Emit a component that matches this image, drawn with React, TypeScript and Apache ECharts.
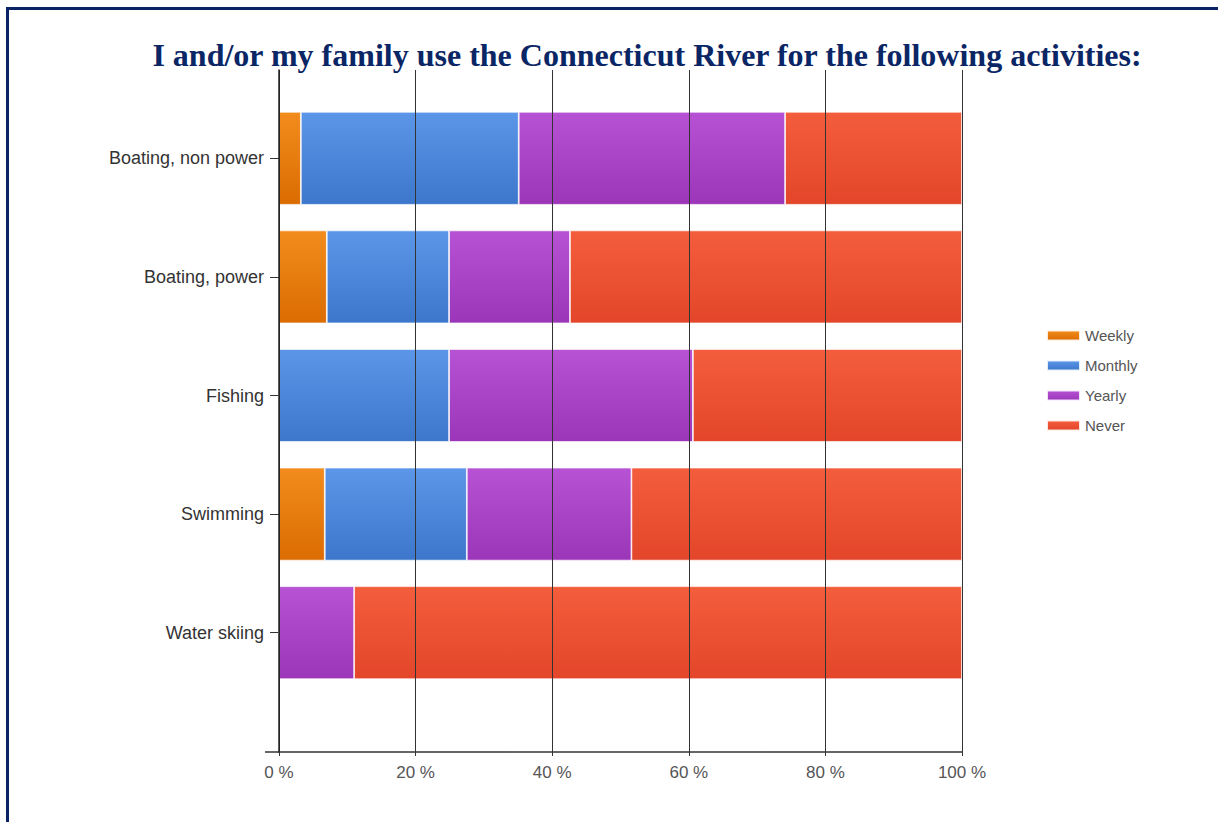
import React, { useEffect, useRef } from "react";
import * as echarts from "echarts";

const TITLE = "I and/or my family use the Connecticut River for the following activities:";
const categories = ["Boating, non power", "Boating, power", "Fishing", "Swimming", "Water skiing"];
const seriesNames = ["Weekly", "Monthly", "Yearly", "Never"];
const weekly = [3.2, 7.0, 0, 6.7, 0];
const monthly = [31.9, 17.9, 24.9, 20.8, 0];
const yearly = [39.0, 17.7, 35.7, 24.1, 11.0];
const never = [25.9, 57.4, 39.4, 48.4, 89.0];
const xTicks = [0, 20, 40, 60, 80, 100];

const grad = (top: string, bottom: string) =>
  new echarts.graphic.LinearGradient(0, 0, 0, 1, [
    { offset: 0, color: top },
    { offset: 1, color: bottom },
  ]);

const SANS = "Arial, 'Liberation Sans', sans-serif";

export default function App() {
  const ref = useRef<HTMLDivElement>(null);
  useEffect(() => {
    if (!ref.current) return;
    const chart = echarts.init(ref.current, undefined, { renderer: "svg" });
    const values = [weekly, monthly, yearly, never];
    const colors = [
      ["#f28c1c", "#db6c02"],
      ["#5c96e8", "#3d77cc"],
      ["#b752d4", "#9b36b9"],
      ["#f35d3c", "#e3462a"],
    ];
    const legendColors = ["#e8780c", "#4a86dc", "#a843c6", "#ec5236"];
    chart.setOption({
      animation: false,
      backgroundColor: "#ffffff",
      title: {
        text: TITLE,
        left: 642,
        top: 34,
        textAlign: "center",
        textStyle: {
          fontFamily: "'Liberation Serif', 'Times New Roman', serif",
          fontWeight: "bold",
          fontSize: 32,
          color: "#0b2665",
        },
      },
      legend: {
        orient: "vertical",
        left: 1046,
        top: 328,
        padding: 0,
        itemWidth: 33,
        itemHeight: 10,
        itemGap: 15,
        icon: "rect",
        data: seriesNames,
        textStyle: { fontFamily: SANS, fontSize: 15, color: "#555" },
      },
      grid: [
        { left: 279, right: 256, top: 99, bottom: 130 },
        { left: 279, right: 256, top: 70, bottom: 70 },
      ],
      xAxis: [
        { type: "value", gridIndex: 0, min: 0, max: 100, show: false },
        {
          type: "value",
          gridIndex: 1,
          min: 0,
          max: 100,
          interval: 20,
          z: 3,
          axisLine: { show: true, lineStyle: { color: "#333", width: 1.5 } },
          axisTick: { show: true, length: 4, lineStyle: { color: "#333" } },
          splitLine: { show: true, lineStyle: { color: "#333", width: 1 } },
          axisLabel: {
            formatter: (v: number) => (xTicks.includes(v) ? `${v} %` : ""),
            fontFamily: SANS,
            fontSize: 17,
            color: "#555",
            margin: 12,
          },
        },
      ],
      yAxis: [
        {
          type: "category",
          gridIndex: 0,
          inverse: true,
          data: categories,
          axisLine: { show: false },
          axisTick: { show: true, alignWithLabel: true, length: 9, lineStyle: { color: "#333" } },
          axisLabel: {
            fontFamily: SANS,
            fontSize: 18,
            color: "#333",
            margin: 15,
          },
        },
        {
          type: "value",
          gridIndex: 1,
          min: 0,
          max: 1,
          z: 3,
          axisLine: { show: true, lineStyle: { color: "#222", width: 1.5 } },
          axisTick: { show: false },
          axisLabel: { show: false },
          splitLine: { show: false },
        },
      ],
      graphic: [
        { type: "line", shape: { x1: 265, y1: 752, x2: 279, y2: 752 }, style: { stroke: "#333", lineWidth: 1.5 } },
        { type: "line", shape: { x1: 6, y1: 8.5, x2: 1218, y2: 8.5 }, style: { stroke: "#0a2463", lineWidth: 3 } },
        { type: "line", shape: { x1: 7.5, y1: 7, x2: 7.5, y2: 822 }, style: { stroke: "#0a2463", lineWidth: 3 } },
      ],
      series: seriesNames.map((name, i) => ({
        name,
        type: "bar",
        stack: "total",
        xAxisIndex: 0,
        yAxisIndex: 0,
        barWidth: 93,
        data: values[i],
        itemStyle: {
          color: grad(colors[i][0], colors[i][1]),
          borderColor: "rgba(255,255,255,0.85)",
          borderWidth: 0.8,
        },
        emphasis: { disabled: true },
      })),
      color: legendColors,
    });
    return () => chart.dispose();
  }, []);
  return (
    <div
      ref={ref}
      style={{ position: "fixed", left: 0, top: 0, width: 1218, height: 822, background: "#fff" }}
    />
  );
}
